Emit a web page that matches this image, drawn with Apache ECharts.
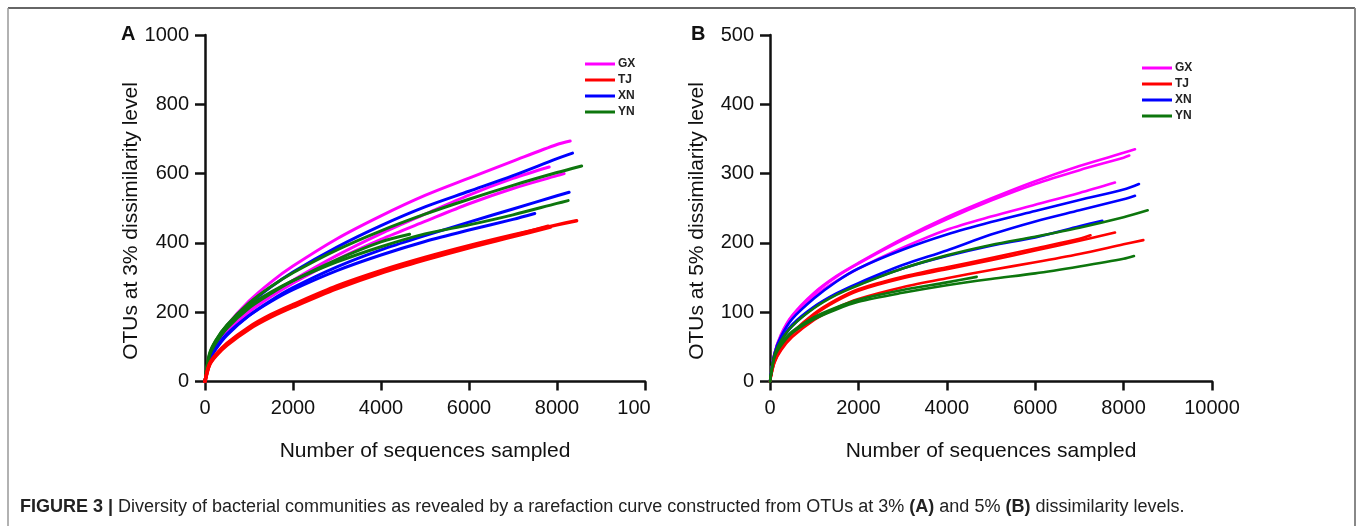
<!DOCTYPE html>
<html>
<head>
<meta charset="utf-8">
<script src="https://cdn.jsdelivr.net/npm/echarts@6/dist/echarts.min.js"></script>
<style>
html,body{margin:0;padding:0;background:#fff;}
#chart{width:1357px;height:526px;}
</style>
</head>
<body>
<div id="chart"></div>
<script>
// colours per site
var siteNames = ['GX', 'TJ', 'XN', 'YN'];
var siteColors = ['#ff00ff', '#ff0000', '#0000ff', '#0d760d'];

// x tick labels (panel A last label is cut in the figure)
var xTicksA = ['0', '2000', '4000', '6000', '8000', '100'];

// ---- panel A : OTUs at 3% ----
var a_GX = [
  [[0,0],[100,70],[250,113],[500,162],[1000,232],[1500,287],[2000,333],[3000,412],[4000,478],[5000,537],[6000,587],[7000,636],[8000,684],[8300,694]],
  [[0,0],[100,62],[250,100],[500,143],[1000,203],[1500,250],[2000,292],[3000,364],[4000,427],[5000,483],[6000,538],[7000,586],[7822,619]],
  [[0,0],[100,64],[250,101],[500,142],[1000,200],[1500,245],[2000,284],[3000,352],[4000,410],[5000,462],[6000,513],[7000,557],[8000,594],[8162,600]]
];
var a_TJ = [
  [[0,0],[100,50],[250,78],[500,110],[1000,157],[1500,193],[2000,222],[3000,276],[4000,320],[5000,358],[6000,392],[7000,423],[8000,452],[8444,464]],
  [[0,0],[100,47],[250,74],[500,105],[1000,151],[1500,186],[2000,215],[3000,268],[4000,313],[5000,351],[6000,386],[7000,418],[7850,446]],
  [[0,0],[100,48],[250,76],[500,108],[1000,154],[1500,190],[2000,219],[3000,272],[4000,317],[5000,355],[6000,389],[7000,421],[7800,448]]
];
var a_XN = [
  [[0,0],[100,68],[250,109],[500,156],[1000,222],[1500,273],[2000,316],[3000,388],[4000,450],[5000,504],[6000,549],[7000,594],[8000,643],[8353,659]],
  [[0,0],[100,60],[250,94],[500,134],[1000,190],[1500,234],[2000,271],[3000,331],[4000,380],[5000,421],[6000,460],[7000,498],[8000,536],[8276,546]],
  [[0,0],[100,60],[250,96],[500,137],[1000,190],[1500,231],[2000,265],[3000,320],[4000,365],[5000,404],[6000,437],[7000,468],[7494,485]]
];
var a_YN = [
  [[0,0],[100,77],[250,118],[500,163],[1000,226],[1500,274],[2000,314],[3000,380],[4000,435],[5000,483],[6000,526],[7000,566],[8000,603],[8559,622]],
  [[0,0],[100,80],[250,120],[500,162],[1000,218],[1500,258],[2000,291],[3000,345],[4000,389],[5000,426],[6000,452],[7000,481],[8000,514],[8253,522]],
  [[0,0],[100,74],[250,112],[500,154],[1000,212],[1500,254],[2000,291],[3000,352],[4000,403],[4650,425]]
];

// ---- panel B : OTUs at 5% ----
var b_GX = [
  [[0,0],[100,40],[250,68],[500,95],[1000,128],[1500,152],[2000,171],[3000,206],[4000,237],[5000,264],[6000,289],[7000,311],[8000,330],[8258,335]],
  [[0,0],[100,40],[250,67],[500,94],[1000,127],[1500,151],[2000,170],[3000,204],[4000,234],[5000,261],[6000,285],[7000,305],[8000,323],[8129,326]],
  [[0,0],[100,39],[250,65],[500,91],[1000,123],[1500,145],[2000,163],[3000,193],[4000,219],[5000,238],[6000,255],[7000,272],[7805,287]]
];
var b_TJ = [
  [[0,0],[100,28],[250,47],[500,68],[1000,96],[1500,116],[2000,131],[3000,149],[4000,162],[5000,175],[6000,189],[7000,203],[7805,215]],
  [[0,0],[100,27],[250,45],[500,64],[1000,89],[1500,106],[2000,119],[3000,136],[4000,149],[5000,161],[6000,172],[7000,184],[8000,198],[8446,204]],
  [[0,0],[100,29],[250,48],[500,70],[1000,98],[1500,118],[2000,133],[3000,151],[4000,165],[5000,178],[6000,192],[7000,206],[7250,211]]
];
var b_XN = [
  [[0,0],[100,40],[250,65],[500,90],[1000,120],[1500,144],[2000,163],[3000,190],[4000,212],[5000,230],[6000,246],[7000,262],[8000,277],[8348,285]],
  [[0,0],[100,37],[250,60],[500,82],[1000,108],[1500,127],[2000,142],[3000,168],[4000,189],[5000,212],[6000,231],[7000,247],[8000,263],[8258,268]],
  [[0,0],[100,36],[250,58],[500,80],[1000,107],[1500,126],[2000,140],[3000,163],[4000,181],[5000,196],[6000,208],[7000,224],[7518,232]]
];
var b_YN = [
  [[0,0],[100,38],[250,59],[500,80],[1000,106],[1500,125],[2000,139],[3000,163],[4000,182],[5000,197],[6000,209],[7000,222],[8000,237],[8545,247]],
  [[0,0],[100,35],[250,52],[500,70],[1000,90],[1500,104],[2000,115],[3000,128],[4000,139],[5000,148],[6000,156],[7000,166],[8000,177],[8235,181]],
  [[0,0],[100,36],[250,54],[500,72],[1000,93],[1500,107],[2000,118],[3000,132],[4000,143],[4676,151]]
];

var FONT = '"Liberation Sans", Arial, Helvetica, sans-serif';
var dom = document.getElementById('chart');
var chart = echarts.init(dom);

var series = [];
function addSite(list, name, color, idx, width) {
  for (var i = 0; i < list.length; i++) {
    series.push({
      name: name,
      type: 'line',
      xAxisIndex: idx,
      yAxisIndex: idx,
      data: list[i],
      smooth: 0.3,
      showSymbol: false,
      color: color,
      lineStyle: {width: width, color: color, cap: 'round', join: 'round'}
    });
  }
}
addSite(a_GX, 'GX', siteColors[0], 0, 3);
addSite(a_XN, 'XN', siteColors[2], 0, 3);
addSite(a_YN, 'YN', siteColors[3], 0, 3);
addSite(a_TJ, 'TJ', siteColors[1], 0, 3.5);
addSite(b_GX, 'GX', siteColors[0], 1, 2.6);
addSite(b_XN, 'XN', siteColors[2], 1, 2.6);
addSite(b_TJ, 'TJ', siteColors[1], 1, 2.6);
addSite(b_YN, 'YN', siteColors[3], 1, 2.6);

function xAxisOf(grid, fmt) {
  return {
    type: 'value', gridIndex: grid, min: 0, max: 10000, interval: 2000,
    axisLine: {show: true, onZero: false, lineStyle: {color: '#111', width: 2.5}},
    axisTick: {show: true, length: 9, lineStyle: {color: '#111', width: 2.5}},
    splitLine: {show: false},
    axisLabel: {margin: 17, color: '#111', fontSize: 20, fontFamily: FONT, formatter: fmt,
      rich: {cut: {fontSize: 20, fontFamily: FONT, color: '#111', padding: [0, 22, 0, 0]}}}
  };
}
function yAxisOf(grid, max, step) {
  return {
    type: 'value', gridIndex: grid, min: 0, max: max, interval: step,
    axisLine: {show: true, onZero: false, lineStyle: {color: '#111', width: 2.5}},
    axisTick: {show: true, length: 10, lineStyle: {color: '#111', width: 2.5}},
    splitLine: {show: false},
    axisLabel: {margin: 16, color: '#111', fontSize: 20, fontFamily: FONT, formatter: function (v) { return String(v); }}
  };
}

function legendOf(left, top) {
  return {
    data: siteNames, orient: 'vertical', left: left, top: top,
    icon: 'rect', itemWidth: 30, itemHeight: 3, itemGap: 2,
    selectedMode: false,
    textStyle: {fontSize: 12, fontWeight: 'bold', color: '#222', fontFamily: FONT, lineHeight: 14, padding: [0, 0, 0, -2]}
  };
}

var caption = '{b|FIGURE 3 |} Diversity of bacterial communities as revealed by a rarefaction curve constructed from OTUs at 3% {b|(A)} and 5% {b|(B)} dissimilarity levels.';

var option = {
  animation: false,
  backgroundColor: '#fff',
  grid: [
    {left: 205, top: 35, width: 440, height: 346.5},
    {left: 770, top: 35, width: 442, height: 346.5}
  ],
  xAxis: [
    xAxisOf(0, function (v) {
      var t = xTicksA[v / 2000];
      return v === 10000 ? '{cut|' + t + '}' : t;
    }),
    xAxisOf(1, function (v) { return String(v); })
  ],
  yAxis: [yAxisOf(0, 1000, 200), yAxisOf(1, 500, 100)],
  legend: [legendOf(580, 52), legendOf(1137, 56)],
  series: series,
  graphic: [
    {type: 'line', shape: {x1: 8, y1: 8, x2: 1355, y2: 8}, style: {stroke: '#333', lineWidth: 1.5}},
    {type: 'line', shape: {x1: 8, y1: 8, x2: 8, y2: 526}, style: {stroke: '#999', lineWidth: 1.5}},
    {type: 'line', shape: {x1: 1355, y1: 8, x2: 1355, y2: 526}, style: {stroke: '#888', lineWidth: 2}},
    {type: 'text', left: 121, top: 24, style: {text: 'A', font: 'bold 20px ' + FONT, fill: '#111'}},
    {type: 'text', left: 691, top: 24, style: {text: 'B', font: 'bold 20px ' + FONT, fill: '#111'}},
    {type: 'text', x: 425, y: 451, style: {text: 'Number of sequences sampled', font: '21px ' + FONT, fill: '#111', align: 'center', verticalAlign: 'middle'}},
    {type: 'text', x: 991, y: 451, style: {text: 'Number of sequences sampled', font: '21px ' + FONT, fill: '#111', align: 'center', verticalAlign: 'middle'}},
    {type: 'text', x: 131, y: 221, rotation: Math.PI / 2, style: {text: 'OTUs at 3% dissimilarity level', font: '21px ' + FONT, fill: '#111', align: 'center', verticalAlign: 'middle'}},
    {type: 'text', x: 697, y: 221, rotation: Math.PI / 2, style: {text: 'OTUs at 5% dissimilarity level', font: '21px ' + FONT, fill: '#111', align: 'center', verticalAlign: 'middle'}},
    {type: 'text', x: 20, y: 507, style: {
      text: caption, font: '18px ' + FONT, fill: '#222', verticalAlign: 'middle',
      rich: {b: {fontWeight: 'bold', fontSize: 18, fontFamily: FONT, fill: '#222'}}
    }}
  ]
};
chart.setOption(option, true);
</script>
</body>
</html>
